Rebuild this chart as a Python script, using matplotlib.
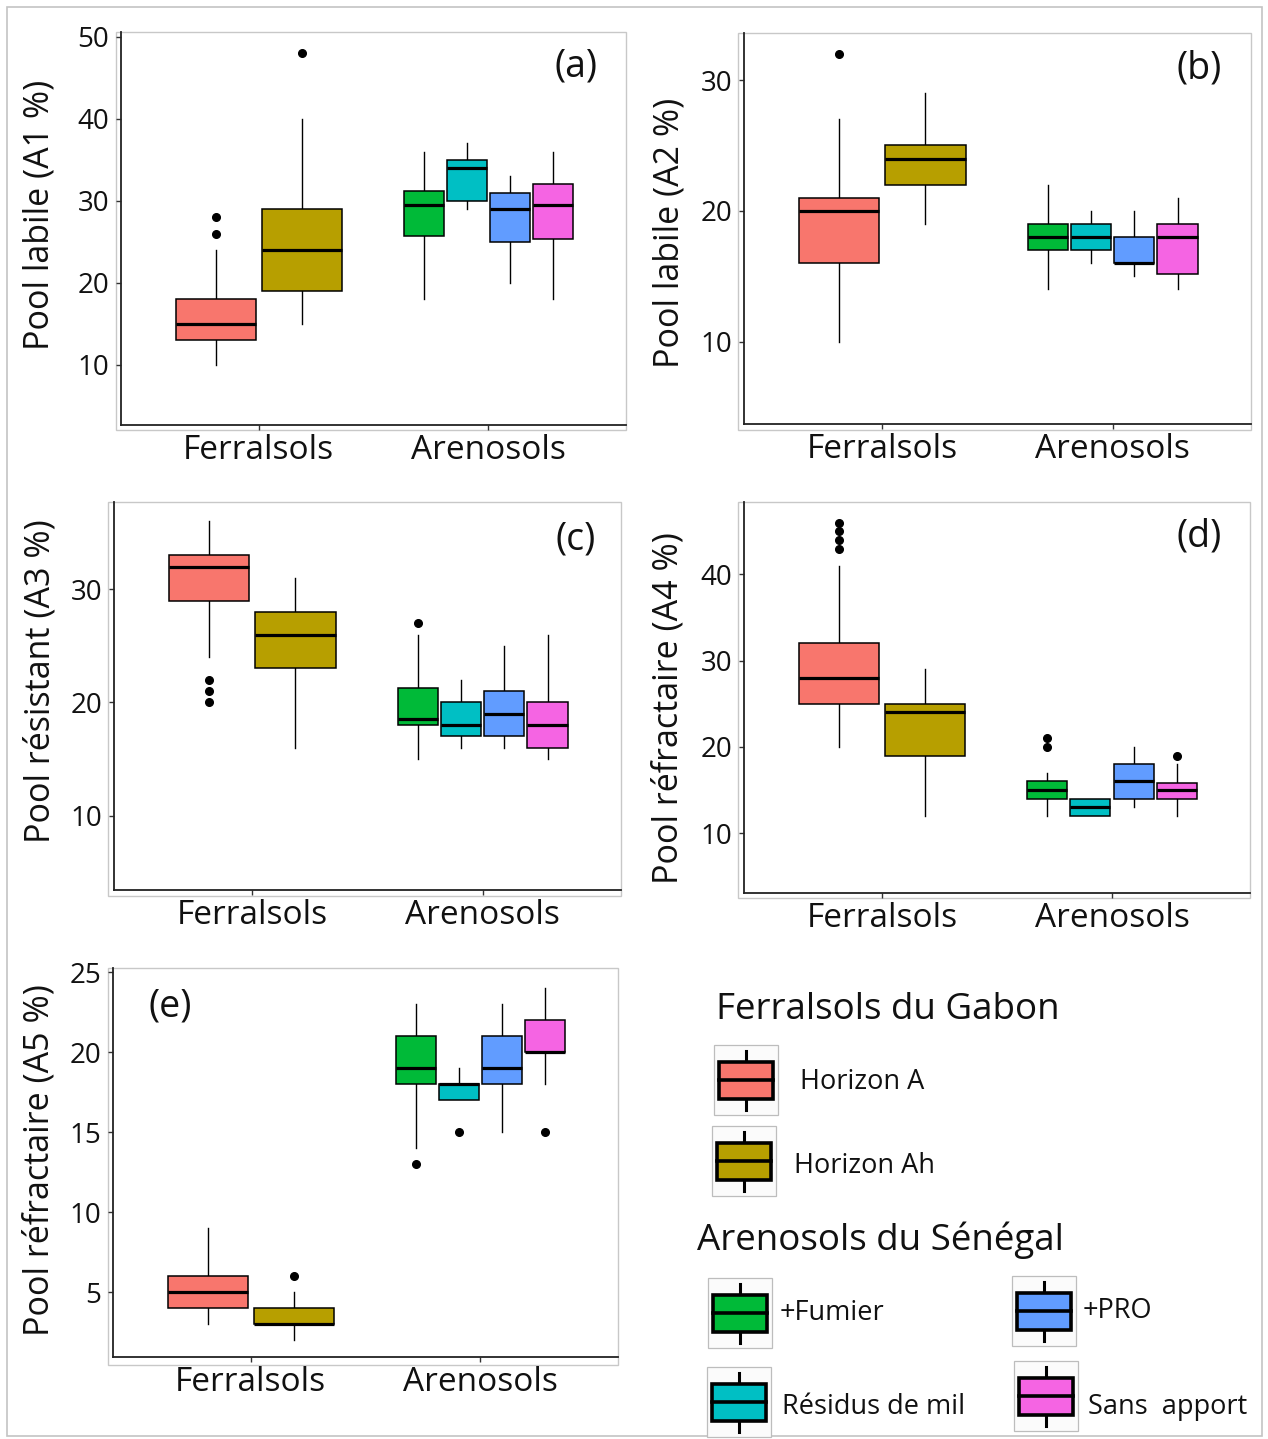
import matplotlib
matplotlib.use("Agg")
import matplotlib.pyplot as plt
from matplotlib.patches import Rectangle
from matplotlib.lines import Line2D

plt.rcParams['font.family'] = ['Open Sans', 'DejaVu Sans']

# ---------------- data ----------------
categories = ["Ferralsols", "Arenosols"]
groups = ["Horizon A", "Horizon Ah", "+Fumier", "Résidus de mil", "+PRO", "Sans  apport"]
group_soil = [0, 0, 1, 1, 1, 1]
colors = ["#F8766D", "#B79F00", "#00BA38", "#00BFC4", "#619CFF", "#F564E3"]

# (whislo, q1, median, q3, whishi) per group
A1 = [(10, 13, 15, 18, 24), (15, 19, 24, 29, 40), (18, 25.7, 29.5, 31.2, 36),
      (29, 30, 34, 35, 37), (20, 25, 29, 31, 33), (18, 25.3, 29.5, 32, 36)]
A1_out = [[26, 28], [48], [], [], [], []]
A2 = [(10, 16, 20, 21, 27), (19, 22, 24, 25, 29), (14, 17, 18, 19, 22),
      (16, 17, 18, 19, 20), (15, 16, 16, 18, 20), (14, 15.2, 18, 19, 21)]
A2_out = [[32], [], [], [], [], []]
A3 = [(24, 29, 32, 33, 36), (16, 23, 26, 28, 31), (15, 18, 18.5, 21.3, 26),
      (16, 17, 18, 20, 22), (16, 17, 19, 21, 25), (15, 16, 18, 20, 26)]
A3_out = [[20, 21, 22], [], [27], [], [], []]
A4 = [(20, 25, 28, 32, 41), (12, 19, 24, 25, 29), (12, 14, 15, 16, 17),
      (12, 12, 13, 14, 14), (13, 14, 16, 18, 20), (12, 14, 15, 15.8, 18)]
A4_out = [[43, 44, 45, 46], [], [20, 21], [], [], [19]]
A5 = [(3, 4, 5, 6, 9), (2, 3, 3, 4, 5), (14, 18, 19, 21, 23),
      (17, 17, 18, 18, 19), (15, 18, 19, 21, 23), (18, 20, 20, 22, 24)]
A5_out = [[], [6], [13], [15], [], [15]]

ylabels = ["Pool labile (A1 %)", "Pool labile (A2 %)", "Pool résistant (A3 %)",
           "Pool réfractaire (A4 %)", "Pool réfractaire (A5 %)"]
panel_tags = ["(a)", "(b)", "(c)", "(d)", "(e)"]
yticks = [[10, 20, 30, 40, 50], [10, 20, 30], [10, 20, 30], [10, 20, 30, 40], [5, 10, 15, 20, 25]]

legend_title1 = "Ferralsols du Gabon"
legend_title2 = "Arenosols du Sénégal"

# ---------------- layout ----------------
W, H = 1268, 1439
fig = plt.figure(figsize=(W / 100, H / 100), dpi=100)
fig.patch.set_facecolor("white")

overlay = fig.add_axes([0, 0, 1, 1], zorder=-1)
overlay.set_xlim(0, W)
overlay.set_ylim(H, 0)
overlay.axis("off")

# outer border
overlay.add_patch(Rectangle((7, 7), 1255, 1429, fill=False, ec="#c4c4c4", lw=1.2))

# axes rects (left, top, right, bottom) in px; frame rects
axes_px = [(121, 32, 626, 425), (744, 33, 1251, 424), (114, 502, 621, 890),
           (744, 502, 1250, 893), (113, 968, 618, 1357)]
frame_px = [(116, 32, 626, 430), (738, 33, 1251, 430), (108, 502, 621, 896),
            (738, 502, 1250, 898), (108, 968, 618, 1365)]
ylims = [(2.65, 50.6), (3.7, 33.6), (3.44, 37.7), (3.06, 48.4), (0.96, 25.27)]
ylabel_pos = [(40, 215), (669, 233), (41, 681), (668, 708), (40, 1160)]
tag_pos = [(576, 66), (1199, 69), (576, 539), (1199, 537), (170, 1007)]

data = [A1, A2, A3, A4, A5]
outs = [A1_out, A2_out, A3_out, A4_out, A5_out]

tick_fs = 20
cat_fs = 24
ylab_fs = 24.5
tag_fs = 27

for k in range(5):
    l, t, r, b = axes_px[k]
    ax = fig.add_axes([l / W, 1 - b / H, (r - l) / W, (b - t) / H])
    ax.set_facecolor("none")
    fl, ft, fr, fb = frame_px[k]
    overlay.add_patch(Rectangle((fl, ft), fr - fl, fb - ft, fill=False, ec="#c8c8c8", lw=1.0))

    stats, pos, wid = [], [], []
    n_in = {0: 2, 1: 4}
    idx_in = {0: 0, 1: 0}
    for g in range(6):
        s = group_soil[g]
        lo, q1, med, q3, hi = data[k][g]
        stats.append(dict(whislo=lo, q1=q1, med=med, q3=q3, whishi=hi, fliers=outs[k][g]))
        n = n_in[s]
        slot = 0.75 / n
        pos.append(s + 1 - 0.375 + slot * (idx_in[s] + 0.5))
        wid.append(slot * 0.93)
        idx_in[s] += 1

    bp = ax.bxp(stats, positions=pos, widths=wid, patch_artist=True, showcaps=False,
                boxprops=dict(edgecolor="black", linewidth=1.1),
                medianprops=dict(color="black", linewidth=2.3, solid_capstyle="butt"),
                whiskerprops=dict(color="black", linewidth=1.0),
                flierprops=dict(marker="o", markerfacecolor="black", markeredgecolor="black",
                                markersize=5.5, linestyle="none"),
                manage_ticks=False)
    for patch, c in zip(bp["boxes"], colors):
        patch.set_facecolor(c)
        patch.set_zorder(3)
    for m in bp["medians"]:
        m.set_zorder(4)

    ax.set_xlim(0.4, 2.6)
    ax.set_ylim(*ylims[k])
    ax.set_xticks([1, 2])
    ax.set_xticklabels(categories, fontsize=cat_fs, color="#111111")
    ax.set_yticks(yticks[k])
    ax.set_yticklabels([str(v) for v in yticks[k]], fontsize=tick_fs, color="#111111")
    ax.tick_params(axis="both", length=3.5, width=1.0, color="#333333")
    ax.tick_params(axis="x", pad=3)
    ax.tick_params(axis="y", pad=5)
    for sp in ["top", "right"]:
        ax.spines[sp].set_visible(False)
    for sp in ["left", "bottom"]:
        ax.spines[sp].set_color("#222222")
        ax.spines[sp].set_linewidth(1.3)

    x, y = ylabel_pos[k]
    fig.text(x / W, 1 - y / H, ylabels[k], rotation=90, ha="center", va="center",
             fontsize=ylab_fs, color="#111111")
    x, y = tag_pos[k]
    fig.text(x / W, 1 - y / H, panel_tags[k], ha="center", va="center",
             fontsize=tag_fs, color="#111111")

# ---------------- legend ----------------
def icon(cx, cy, color, fw=64, fh=70):
    overlay.add_patch(Rectangle((cx - fw / 2, cy - fh / 2), fw, fh, fill=True,
                                fc="#fbfbfb", ec="#bdbdbd", lw=0.9, zorder=1))
    bw, bh = 54, 37
    overlay.add_line(Line2D([cx, cx], [cy - bh / 2 - 11, cy + bh / 2 + 11], color="black", lw=2.2, zorder=2))
    overlay.add_patch(Rectangle((cx - bw / 2, cy - bh / 2), bw, bh, fc=color, ec="black", lw=2.6, zorder=3))
    overlay.add_line(Line2D([cx - bw / 2, cx + bw / 2], [cy, cy], color="black", lw=2.6, zorder=4))

leg_fs = 19.5
title_fs = 26.5
overlay.text(716, 1010, legend_title1, ha="left", va="center", fontsize=title_fs, color="#111111")
overlay.text(697, 1240, legend_title2, ha="left", va="center", fontsize=title_fs, color="#111111")

icon_pos = [(746, 1080), (744, 1161), (740, 1313), (739, 1402), (1044, 1311), (1046, 1396)]
text_pos = [(800, 1082), (794, 1166), (780, 1313), (782, 1407), (1083, 1311), (1088, 1407)]
for g in range(6):
    cx, cy = icon_pos[g]
    icon(cx, cy, colors[g])
    tx, ty = text_pos[g]
    overlay.text(tx, ty, groups[g], ha="left", va="center", fontsize=leg_fs, color="#111111")

fig.savefig("out.png", dpi=100, facecolor="white")
